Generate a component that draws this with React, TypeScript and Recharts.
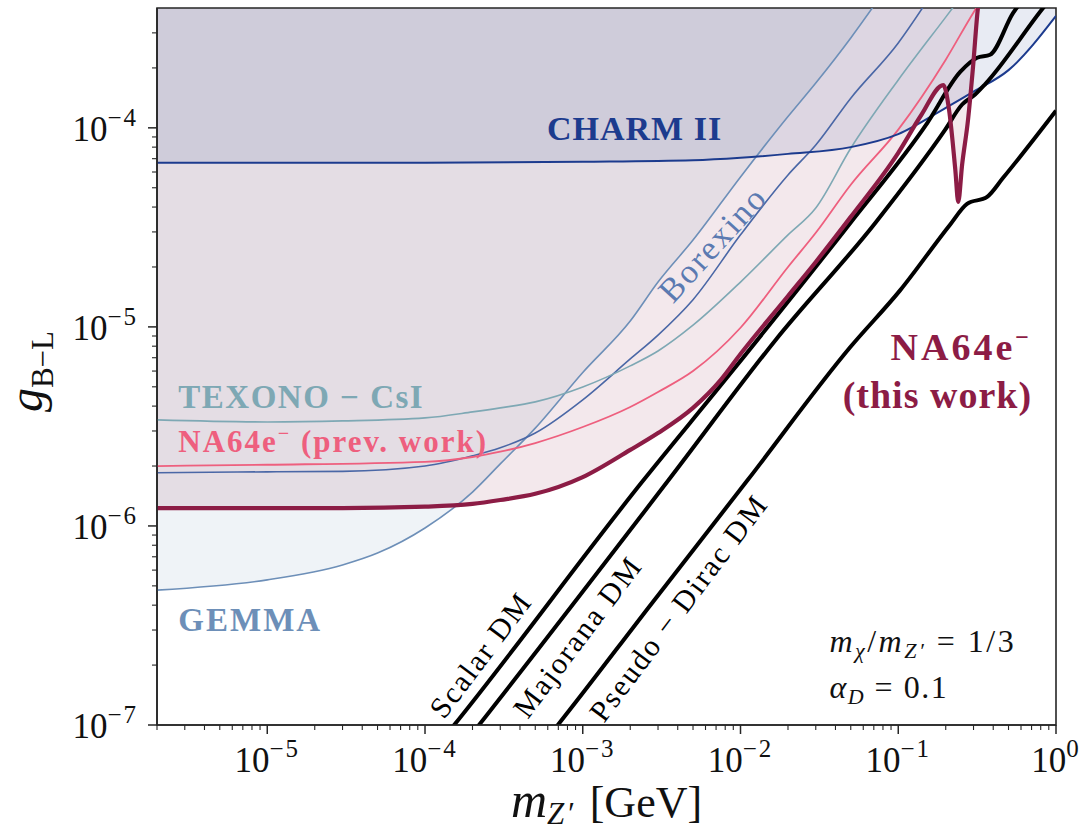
import React from "react";
import {
  Area,
  ComposedChart,
  Line,
  ReferenceArea,
  ReferenceDot,
  XAxis,
  YAxis,
} from "recharts";

const SERIF = "'Liberation Serif', 'Times New Roman', serif";
const AXIS = "#262626";

const X_MIN = 2e-6;
const X_MAX = 1;
const Y_MIN = 1e-7;
const Y_MAX = 4e-4;
const FILL_TOP = 1e-2;

// ticks
const xMajor = [1e-5, 1e-4, 1e-3, 1e-2, 1e-1, 1];
const xMajorExp = ["−5", "−4", "−3", "−2", "−1", "0"];
const xDecades = [1e-6, 1e-5, 1e-4, 1e-3, 1e-2, 1e-1];
const yMajor = [1e-7, 1e-6, 1e-5, 1e-4];
const yMajorExp = ["−7", "−6", "−5", "−4"];
const yDecades = [1e-7, 1e-6, 1e-5, 1e-4];
const minorSteps = [2, 3, 4, 5, 6, 7, 8, 9];

const minorTicks = (decades: number[], lo: number, hi: number) =>
  decades
    .flatMap((d) => minorSteps.map((m) => m * d))
    .filter((v) => v >= lo * 0.999 && v < hi * 0.999);

const xTicks = [...xMajor, ...minorTicks(xDecades, X_MIN, X_MAX)];
const yTicks = [...yMajor, ...minorTicks(yDecades, Y_MIN, Y_MAX)];

// CHARM II
const charmX = [2e-6, 1e-4, 1e-3, 5e-3, 1e-2, 2e-2, 5e-2, 0.1, 0.2, 0.3, 0.5, 1];
const charmY = [6.67e-5, 6.67e-5, 6.75e-5, 6.87e-5, 7.07e-5, 7.4e-5, 8.0e-5, 9.3e-5, 1.26e-4, 1.52e-4, 1.95e-4, 3.65e-4];

// GEMMA
const gemmaX = [2e-6, 1e-5, 3e-5, 5e-5, 1e-4, 2e-4, 3e-4, 5e-4, 1e-3, 2e-3, 3e-3, 5e-3, 1e-2, 2e-2, 3e-2, 5e-2, 7e-2];
const gemmaY = [4.76e-7, 5.36e-7, 6.37e-7, 7.31e-7, 9.77e-7, 1.48e-6, 2.05e-6, 3.1e-6, 5.9e-6, 1.07e-5, 1.68e-5, 2.73e-5, 5.67e-5, 1.14e-4, 1.68e-4, 2.83e-4, 4.1e-4];

// Borexino
const borexX = [2e-6, 1e-5, 3e-5, 1e-4, 2e-4, 3e-4, 5e-4, 1e-3, 2e-3, 3e-3, 5e-3, 1e-2, 2e-2, 3e-2, 5e-2, 0.1, 0.16];
const borexY = [1.85e-6, 1.87e-6, 1.88e-6, 2.0e-6, 2.25e-6, 2.47e-6, 2.93e-6, 4.3e-6, 6.9e-6, 9.1e-6, 1.37e-5, 2.9e-5, 5.8e-5, 8.2e-5, 1.41e-4, 2.67e-4, 4.6e-4];

// TEXONO - CsI
const texonoX = [2e-6, 1e-5, 3e-5, 1e-4, 2e-4, 3e-4, 5e-4, 1e-3, 2e-3, 3e-3, 5e-3, 1e-2, 2e-2, 3e-2, 5e-2, 0.1, 0.2, 0.25];
const texonoY = [3.41e-6, 3.33e-6, 3.37e-6, 3.49e-6, 3.74e-6, 3.92e-6, 4.2e-6, 4.99e-6, 6.37e-6, 7.57e-6, 1.02e-5, 1.68e-5, 2.9e-5, 3.96e-5, 7.9e-5, 1.74e-4, 3.6e-4, 4.55e-4];

// NA64e- previous work
const prevX = [2e-6, 1e-5, 1e-4, 2e-4, 3e-4, 5e-4, 1e-3, 2e-3, 3e-3, 5e-3, 1e-2, 2e-2, 3e-2, 5e-2, 0.1, 0.2, 0.3, 0.35];
const prevY = [2.0e-6, 2.03e-6, 2.1e-6, 2.22e-6, 2.36e-6, 2.61e-6, 3.14e-6, 3.96e-6, 4.71e-6, 6.0e-6, 9.9e-6, 2.0e-5, 2.97e-5, 5.18e-5, 9.8e-5, 2.2e-4, 3.8e-4, 4.6e-4];

// NA64e- this work
const na64X = [2e-6, 1e-5, 3e-5, 1e-4, 2e-4, 3e-4, 5e-4, 1e-3, 2e-3, 3e-3, 5e-3, 7.5e-3, 1e-2, 2e-2, 3e-2, 5e-2, 0.1, 0.14, 0.193, 0.21, 0.23, 0.24, 0.254, 0.277, 0.298, 0.32, 0.335];
const na64Y = [1.23e-6, 1.23e-6, 1.23e-6, 1.25e-6, 1.29e-6, 1.35e-6, 1.45e-6, 1.76e-6, 2.41e-6, 2.93e-6, 3.92e-6, 5.42e-6, 7.31e-6, 1.43e-5, 2.12e-5, 3.57e-5, 7.49e-5, 1.16e-4, 1.64e-4, 1.23e-4, 6.15e-5, 4.25e-5, 6.52e-5, 1.1e-4, 2.03e-4, 4.0e-4, 5.06e-4];

// relic targets
const scalarX = [1.28e-4, 1.53e-4, 2.43e-3, 8.0e-3, 4.97e-2, 0.153, 0.247, 0.316, 0.382, 0.535, 0.637];
const scalarY = [8.4e-8, 1e-7, 1.7e-6, 5.42e-6, 3.33e-5, 1.06e-4, 1.91e-4, 2.25e-4, 2.33e-4, 3.78e-4, 4.55e-4];
const majoranaX = [1.85e-4, 2.2e-4, 3.5e-3, 1.67e-2, 7.15e-2, 0.198, 0.254, 0.307, 0.356, 0.828, 0.944];
const majoranaY = [8.4e-8, 1e-7, 1.7e-6, 8.6e-6, 3.33e-5, 9.77e-5, 1.31e-4, 1.47e-4, 1.66e-4, 4.0e-4, 4.55e-4];
const pseudoX = [5.83e-4, 6.95e-4, 2.69e-3, 1.11e-2, 4.97e-2, 0.103, 0.213, 0.273, 0.366, 0.462, 1.0];
const pseudoY = [8.4e-8, 1e-7, 4.01e-7, 1.7e-6, 7.92e-6, 1.53e-5, 3.26e-5, 4.15e-5, 4.5e-5, 5.61e-5, 1.22e-4];

const C_CHARM = "#1c3b8e";
const C_GEMMA = "#6d8fb8";
const C_BOREX = "#4a67a6";
const C_TEXONO = "#7ea8b4";
const C_PREV = "#ee5f7e";
const C_NA64 = "#8c1c45";

const rows = (xs: number[], ys: number[]) => xs.map((x, i) => ({ x, y: ys[i] }));
const band = (d: any) => [d.y, FILL_TOP];

const XTick = (props: any) => {
  const { x, y, payload } = props;
  const i = xMajor.indexOf(payload.value);
  const major = i >= 0;
  return (
    <g>
      <line x1={x} y1={y} x2={x} y2={y + (major ? 9 : 5)} stroke={AXIS} strokeWidth={major ? 1.5 : 1.1} />
      {major && (
        <text x={x} y={y + 47} textAnchor="middle" fontFamily={SERIF} fontSize={35} fill="#111">
          10
          <tspan dy={-15} fontSize={25} letterSpacing={2}>
            {xMajorExp[i]}
          </tspan>
        </text>
      )}
    </g>
  );
};

const YTick = (props: any) => {
  const { x, y, payload } = props;
  const i = yMajor.indexOf(payload.value);
  const major = i >= 0;
  return (
    <g>
      <line x1={x - (major ? 9 : 5)} y1={y} x2={x} y2={y} stroke={AXIS} strokeWidth={major ? 1.5 : 1.1} />
      {major && (
        <text x={x - 19} y={y + 13} textAnchor="end" fontFamily={SERIF} fontSize={35} fill="#111">
          10
          <tspan dy={-15} fontSize={25} letterSpacing={2}>
            {yMajorExp[i]}
          </tspan>
        </text>
      )}
    </g>
  );
};

const XTitle = (props: any) => {
  const vb = props.viewBox ?? { x: 157, y: 725, width: 899, height: 112 };
  return (
    <text x={vb.x + vb.width / 2} y={vb.y + 92} textAnchor="middle" fontFamily={SERIF} fontSize={44} fill="#111">
      <tspan fontStyle="italic" fontSize={50}>
        m
      </tspan>
      <tspan fontStyle="italic" fontSize={31} dy={7} letterSpacing={2}>
        Z′
      </tspan>
      <tspan dy={-7}>{"\u2004[GeV]"}</tspan>
    </text>
  );
};

const YTitle = (props: any) => {
  const vb = props.viewBox ?? { x: 0, y: 8, width: 157, height: 717 };
  const cy = vb.y + vb.height / 2 + 5;
  const x = 42;
  return (
    <text
      x={x}
      y={cy}
      transform={`rotate(-90 ${x} ${cy})`}
      textAnchor="middle"
      fontFamily={SERIF}
      fontSize={48}
      fill="#111"
    >
      <tspan fontStyle="italic">g</tspan>
      <tspan fontSize={31} dy={11}>
        B−L
      </tspan>
    </text>
  );
};

const rotated = (angle: number, text: string, size: number, spacing: number, fill: string) =>
  (p: any) => (
    <text
      x={p.cx}
      y={p.cy}
      dy={10}
      transform={`rotate(${angle} ${p.cx} ${p.cy})`}
      textAnchor="middle"
      fontFamily={SERIF}
      fontSize={size}
      letterSpacing={spacing}
      fill={fill}
    >
      {text}
    </text>
  );

export default function App() {
  return (
    <div style={{ position: "absolute", left: 0, top: 0, background: "#fff" }}>
      <ComposedChart width={1082} height={837} margin={{ top: 8, right: 26, bottom: 0, left: 0 }}>
        <XAxis
          type="number"
          dataKey="x"
          scale="log"
          domain={[X_MIN, X_MAX]}
          allowDataOverflow
          ticks={xTicks}
          interval={0}
          tick={(p: any) => <XTick {...p} />}
          tickLine={false}
          tickSize={0}
          tickMargin={0}
          height={112}
          axisLine={{ stroke: AXIS, strokeWidth: 1.6 }}
          label={<XTitle />}
        />
        <YAxis
          type="number"
          dataKey="y"
          scale="log"
          domain={[Y_MIN, Y_MAX]}
          allowDataOverflow
          ticks={yTicks}
          interval={0}
          tick={(p: any) => <YTick {...p} />}
          tickLine={false}
          tickSize={0}
          tickMargin={0}
          width={157}
          axisLine={{ stroke: AXIS, strokeWidth: 1.6 }}
          label={<YTitle />}
        />

        <Area data={rows(gemmaX, gemmaY)} dataKey={band} type="monotone" stroke="none" fill={C_GEMMA} fillOpacity={0.11} isAnimationActive={false} />
        <Area data={rows(na64X, na64Y)} dataKey={band} type="monotone" stroke="none" fill={C_NA64} fillOpacity={0.1} isAnimationActive={false} />
        <Area data={rows(charmX, charmY)} dataKey={band} type="monotone" stroke="none" fill={C_CHARM} fillOpacity={0.1} isAnimationActive={false} />

        <Line data={rows(gemmaX, gemmaY)} dataKey="y" type="monotone" stroke={C_GEMMA} strokeWidth={1.6} dot={false} activeDot={false} isAnimationActive={false} />
        <Line data={rows(borexX, borexY)} dataKey="y" type="monotone" stroke={C_BOREX} strokeWidth={1.6} dot={false} activeDot={false} isAnimationActive={false} />
        <Line data={rows(texonoX, texonoY)} dataKey="y" type="monotone" stroke={C_TEXONO} strokeWidth={1.6} dot={false} activeDot={false} isAnimationActive={false} />
        <Line data={rows(prevX, prevY)} dataKey="y" type="monotone" stroke={C_PREV} strokeWidth={1.8} dot={false} activeDot={false} isAnimationActive={false} />
        <Line data={rows(charmX, charmY)} dataKey="y" type="monotone" stroke={C_CHARM} strokeWidth={2} dot={false} activeDot={false} isAnimationActive={false} />
        <Line data={rows(scalarX, scalarY)} dataKey="y" type="monotone" stroke="#000" strokeWidth={4} dot={false} activeDot={false} isAnimationActive={false} />
        <Line data={rows(majoranaX, majoranaY)} dataKey="y" type="monotone" stroke="#000" strokeWidth={4} dot={false} activeDot={false} isAnimationActive={false} />
        <Line data={rows(pseudoX, pseudoY)} dataKey="y" type="monotone" stroke="#000" strokeWidth={4} dot={false} activeDot={false} isAnimationActive={false} />
        <Line data={rows(na64X, na64Y)} dataKey="y" type="monotone" stroke={C_NA64} strokeWidth={4.2} dot={false} activeDot={false} isAnimationActive={false} />

        <ReferenceArea x1={X_MIN} x2={X_MAX} y1={Y_MIN} y2={Y_MAX} fill="none" stroke={AXIS} strokeWidth={1.6} ifOverflow="visible" />

        <ReferenceDot
          x={2.13e-3}
          y={8.7e-5}
          r={0}
          ifOverflow="visible"
          shape={(p: any) => (
            <text x={p.cx} y={p.cy} textAnchor="middle" fontFamily={SERIF} fontWeight="bold" fontSize={34} letterSpacing={1} fill={C_CHARM}>
              CHARM II
            </text>
          )}
        />
        <ReferenceDot x={6.75e-3} y={2.58e-5} r={0} ifOverflow="visible" shape={rotated(-47.7, "Borexino", 34, 2, "#5b7ab1")} />
        <ReferenceDot
          x={2.73e-6}
          y={3.92e-6}
          r={0}
          ifOverflow="visible"
          shape={(p: any) => (
            <text x={p.cx} y={p.cy} fontFamily={SERIF} fontWeight="bold" fontSize={33} letterSpacing={1.5} fill={C_TEXONO}>
              TEXONO − CsI
            </text>
          )}
        />
        <ReferenceDot
          x={2.73e-6}
          y={2.36e-6}
          r={0}
          ifOverflow="visible"
          shape={(p: any) => (
            <text x={p.cx} y={p.cy} fontFamily={SERIF} fontWeight="bold" fontSize={31} letterSpacing={2} fill={C_PREV}>
              NA64e
              <tspan dy={-12} fontSize={20}>
                −
              </tspan>
              <tspan dy={12}>{" (prev. work)"}</tspan>
            </text>
          )}
        />
        <ReferenceDot
          x={2.73e-6}
          y={2.97e-7}
          r={0}
          ifOverflow="visible"
          shape={(p: any) => (
            <text x={p.cx} y={p.cy} fontFamily={SERIF} fontWeight="bold" fontSize={33} letterSpacing={2} fill={C_GEMMA}>
              GEMMA
            </text>
          )}
        />
        <ReferenceDot
          x={0.705}
          y={6.82e-6}
          r={0}
          ifOverflow="visible"
          shape={(p: any) => (
            <g fontFamily={SERIF} fontWeight="bold" fill={C_NA64}>
              <text x={p.cx} y={p.cy} textAnchor="end" fontSize={38} letterSpacing={3}>
                NA64e
                <tspan dy={-15} fontSize={24}>
                  −
                </tspan>
              </text>
              <text x={p.cx} y={p.cy + 48} textAnchor="end" fontSize={38} letterSpacing={1}>
                (this work)
              </text>
            </g>
          )}
        />
        <ReferenceDot x={2.26e-4} y={2.25e-7} r={0} ifOverflow="visible" shape={rotated(-53, "Scalar DM", 30, 2, "#000")} />
        <ReferenceDot x={9.29e-4} y={2.77e-7} r={0} ifOverflow="visible" shape={rotated(-53, "Majorana DM", 30, 2, "#000")} />
        <ReferenceDot x={4.06e-3} y={3.87e-7} r={0} ifOverflow="visible" shape={rotated(-53, "Pseudo − Dirac DM", 30, 2, "#000")} />
        <ReferenceDot
          x={0.0366}
          y={2.33e-7}
          r={0}
          ifOverflow="visible"
          shape={(p: any) => (
            <text x={p.cx} y={p.cy} fontFamily={SERIF} fontSize={32} letterSpacing={2.5} fill="#111">
              <tspan fontStyle="italic">m</tspan>
              <tspan fontStyle="italic" fontSize={22} dy={6}>
                χ
              </tspan>
              <tspan dy={-6}>/</tspan>
              <tspan fontStyle="italic">m</tspan>
              <tspan fontStyle="italic" fontSize={22} dy={6}>
                Z′
              </tspan>
              <tspan dy={-6}>{"\u2005=\u20051/3"}</tspan>
            </text>
          )}
        />
        <ReferenceDot
          x={0.0366}
          y={1.37e-7}
          r={0}
          ifOverflow="visible"
          shape={(p: any) => (
            <text x={p.cx} y={p.cy} fontFamily={SERIF} fontSize={32} letterSpacing={1.5} fill="#111">
              <tspan fontStyle="italic">α</tspan>
              <tspan fontStyle="italic" fontSize={22} dy={6}>
                D
              </tspan>
              <tspan dy={-6}>{"\u2005=\u20050.1"}</tspan>
            </text>
          )}
        />
      </ComposedChart>
    </div>
  );
}
